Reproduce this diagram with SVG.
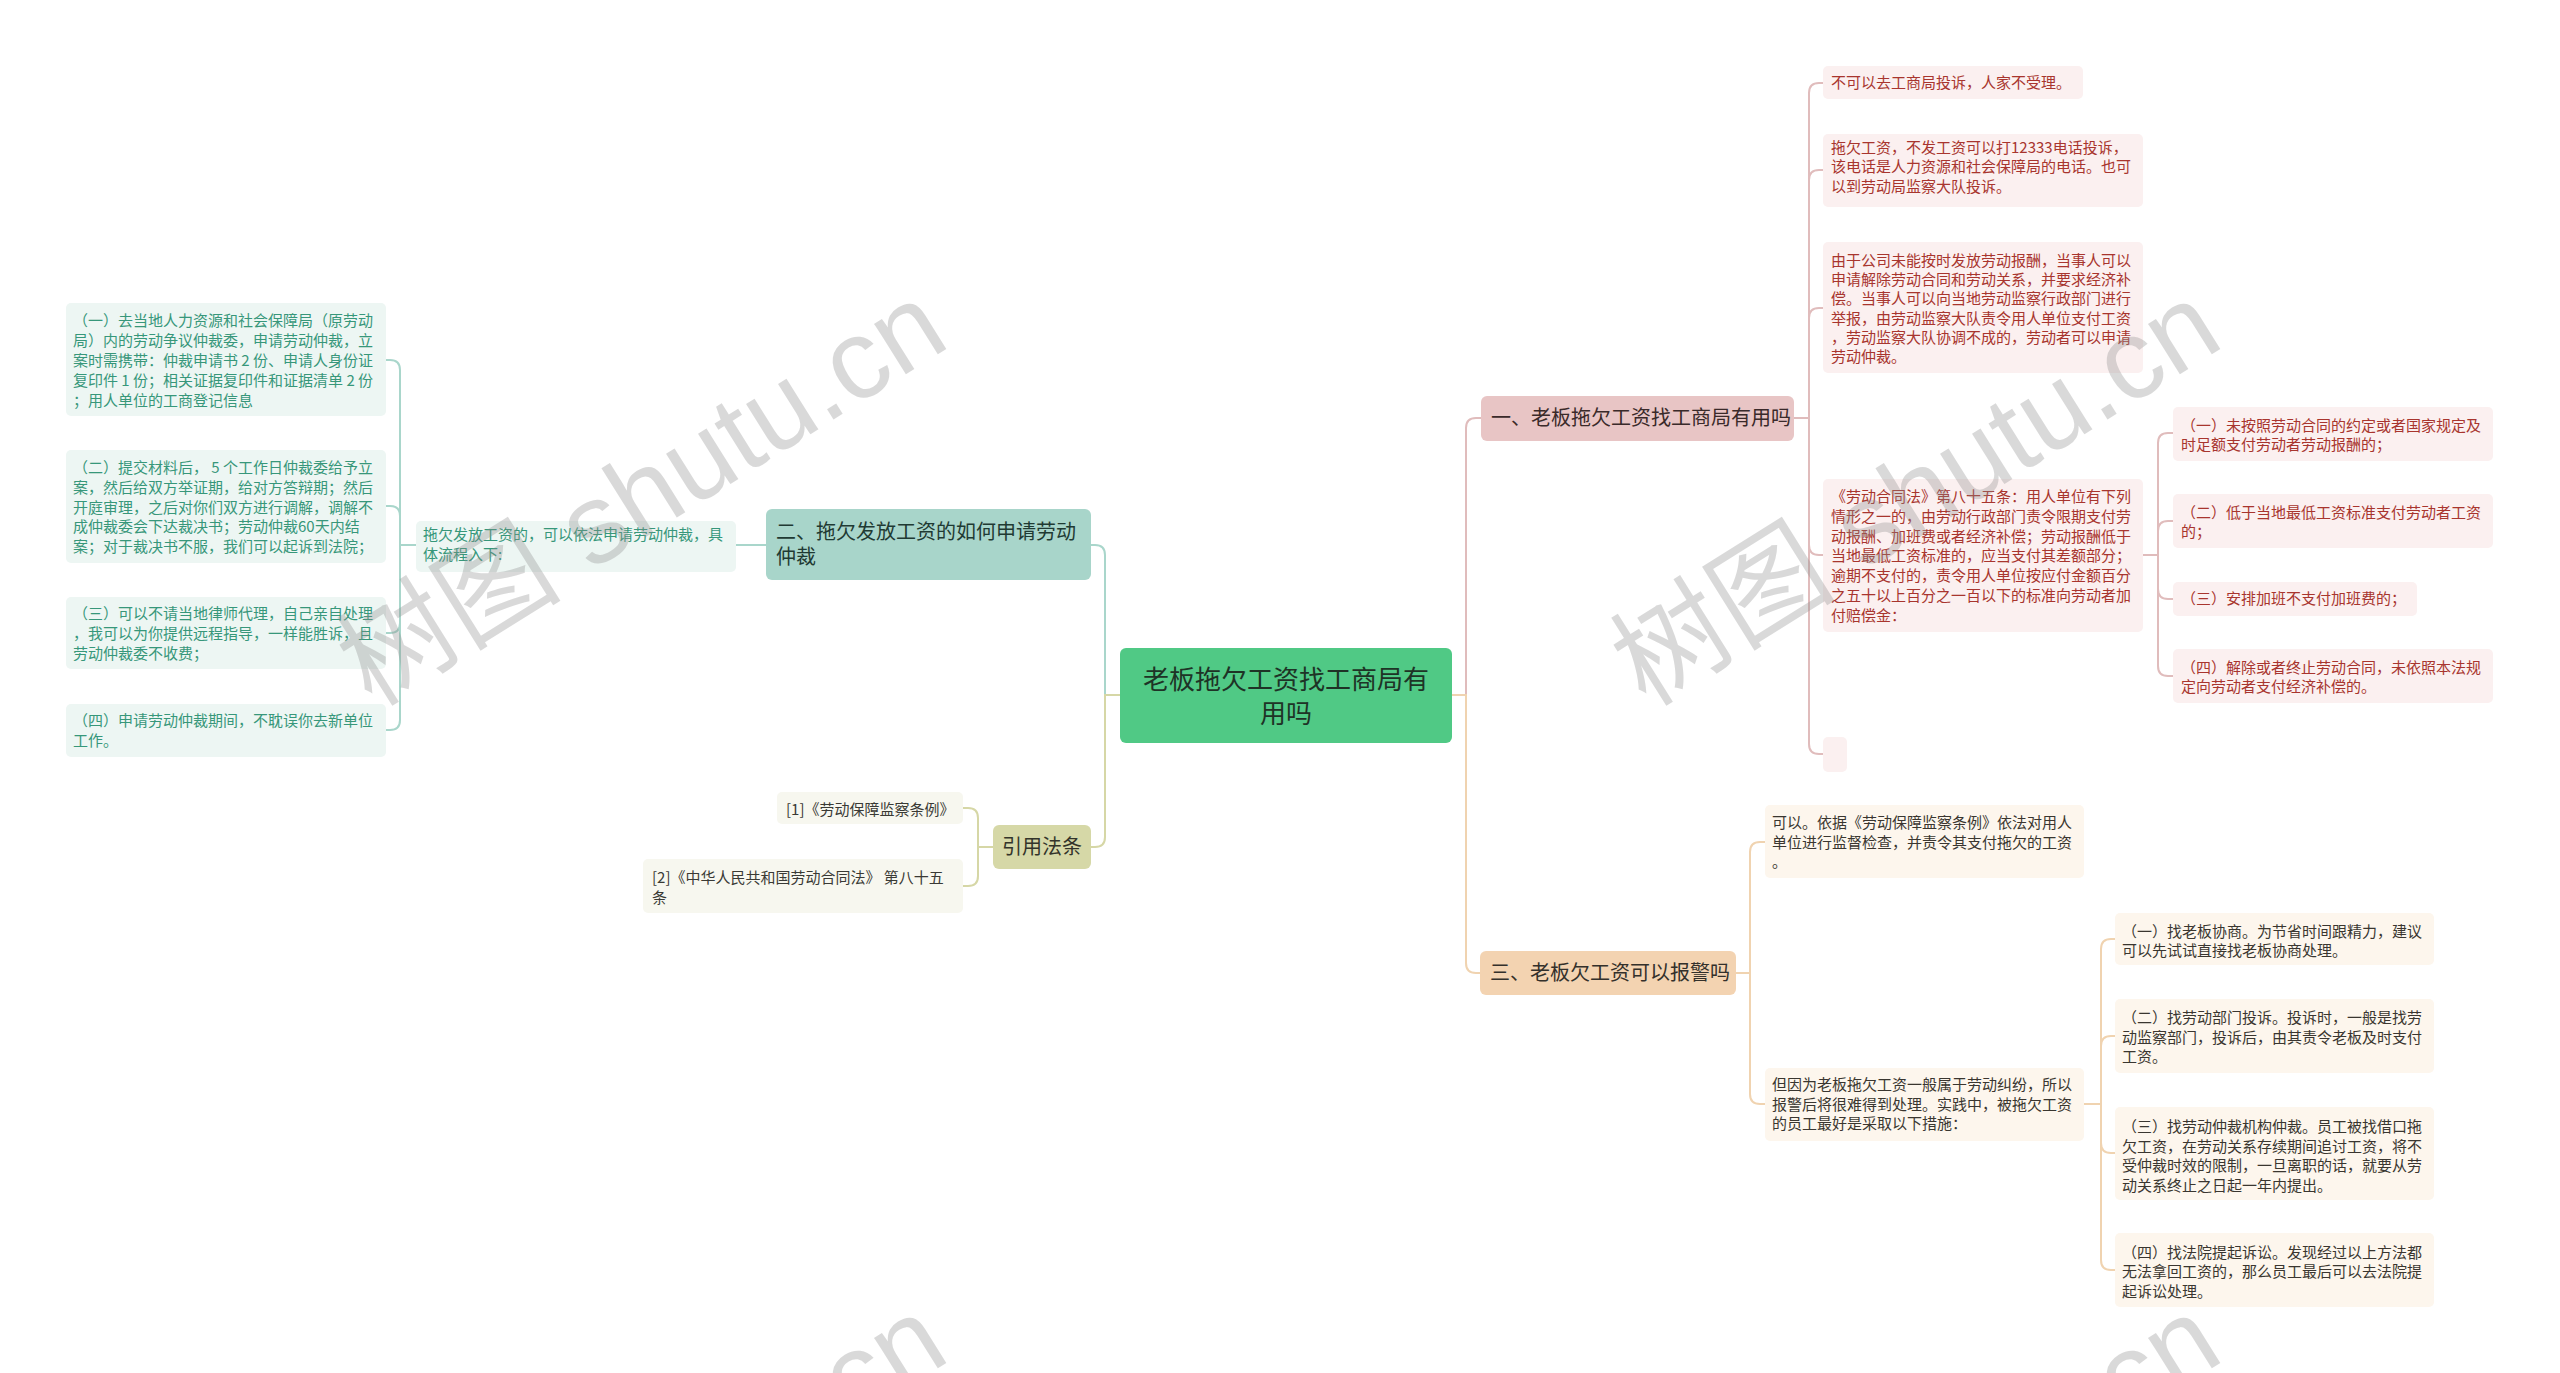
<svg xmlns="http://www.w3.org/2000/svg" width="2560" height="1373" viewBox="0 0 2560 1373">
<style>
text{font-family:"Noto Sans CJK SC","Noto Sans",sans-serif;}
.c{fill:none;stroke-width:2;}
.pk{stroke:#e0bcbc}.or{stroke:#f0d3b0}.tl{stroke:#a9d6cb}.ol{stroke:#d6d7a6}
.lf{font-size:15px}
.tlb{fill:#edf6f3}.tlt{fill:#37977a}
.pkb{fill:#fbf0f0}.pkt{fill:#a8352e}
.orb{fill:#fdf6ed}.ort{fill:#3a3630}
.olb{fill:#f7f7ef}.olt{fill:#3a3a35}
.wm{font-size:113px;fill:#8c8c8c;opacity:0.32;font-family:"Liberation Sans","Noto Sans CJK SC",sans-serif}
</style>
<rect width="2560" height="1373" fill="#ffffff"/>

<g id="connectors">
  <path class="c pk" d="M1452 695 H1466 V428 Q1466 418 1476 418 H1481"/>
  <path class="c or" d="M1452 695 H1466 V963 Q1466 973 1476 973 H1480"/>
  <path class="c tl" d="M1120 695 H1105 V555 Q1105 545 1095 545 H1091"/>
  <path class="c ol" d="M1120 695 H1105 V837 Q1105 847 1095 847 H1091"/>
  <path class="c pk" d="M1794 418 H1809 V93 Q1809 83 1819 83 H1823"/>
  <path class="c pk" d="M1794 418 H1809 V180 Q1809 170 1819 170 H1823"/>
  <path class="c pk" d="M1794 418 H1809 V318 Q1809 308 1819 308 H1823"/>
  <path class="c pk" d="M1794 418 H1809 V545 Q1809 555 1819 555 H1823"/>
  <path class="c pk" d="M1794 418 H1809 V744 Q1809 754 1819 754 H1823"/>
  <path class="c pk" d="M2143 555 H2158 V443 Q2158 433 2168 433 H2173"/>
  <path class="c pk" d="M2143 555 H2158 V531 Q2158 521 2168 521 H2173"/>
  <path class="c pk" d="M2143 555 H2158 V589 Q2158 599 2168 599 H2173"/>
  <path class="c pk" d="M2143 555 H2158 V666 Q2158 676 2168 676 H2173"/>
  <path class="c or" d="M1736 973 H1750 V852 Q1750 842 1760 842 H1765"/>
  <path class="c or" d="M1736 973 H1750 V1094 Q1750 1104 1760 1104 H1765"/>
  <path class="c or" d="M2084 1104 H2101 V949 Q2101 939 2111 939 H2115"/>
  <path class="c or" d="M2084 1104 H2101 V1046 Q2101 1036 2111 1036 H2115"/>
  <path class="c or" d="M2084 1104 H2101 V1143 Q2101 1153 2111 1153 H2115"/>
  <path class="c or" d="M2084 1104 H2101 V1260 Q2101 1270 2111 1270 H2115"/>
  <path class="c tl" d="M766 545 H736"/>
  <path class="c tl" d="M416 545 H400 V370 Q400 360 390 360 H386"/>
  <path class="c tl" d="M416 545 H400 V516 Q400 506 390 506 H386"/>
  <path class="c tl" d="M416 545 H400 V623 Q400 633 390 633 H386"/>
  <path class="c tl" d="M416 545 H400 V720 Q400 730 390 730 H386"/>
  <path class="c ol" d="M993 847 H978 V818 Q978 808 968 808 H963"/>
  <path class="c ol" d="M993 847 H978 V876 Q978 886 968 886 H963"/>
</g>

<g id="center">
  <rect x="1120" y="648" width="332" height="95" rx="6" fill="#50c985"/>
  <text x="1286" y="689" font-size="26" fill="#1e3326" text-anchor="middle">老板拖欠工资找工商局有</text>
  <text x="1286" y="723" font-size="26" fill="#1e3326" text-anchor="middle">用吗</text>
</g>

<g id="branch1">
  <rect x="1481" y="396" width="313" height="45" rx="6" fill="#e8c5c5"/>
  <text x="1491" y="425" font-size="20" fill="#3a2a2a">一、老板拖欠工资找工商局有用吗</text>
</g>
<g id="p1">
  <rect class="pkb" x="1823" y="66" width="260" height="33" rx="5"/>
  <text class="lf pkt" x="1831" y="88">不可以去工商局投诉，人家不受理。</text>
</g>
<g id="p2">
  <rect class="pkb" x="1823" y="134" width="320" height="73" rx="5"/>
  <text class="lf pkt" x="1831" y="153">拖欠工资，不发工资可以打12333电话投诉，<tspan x="1831" dy="19.3">该电话是人力资源和社会保障局的电话。也可</tspan><tspan x="1831" dy="19.3">以到劳动局监察大队投诉。</tspan></text>
</g>
<g id="p3">
  <rect class="pkb" x="1823" y="242" width="320" height="131" rx="5"/>
  <text class="lf pkt" x="1831" y="266">由于公司未能按时发放劳动报酬，当事人可以<tspan x="1831" dy="19.2">申请解除劳动合同和劳动关系，并要求经济补</tspan><tspan x="1831" dy="19.2">偿。当事人可以向当地劳动监察行政部门进行</tspan><tspan x="1831" dy="19.2">举报，由劳动监察大队责令用人单位支付工资</tspan><tspan x="1831" dy="19.2">，劳动监察大队协调不成的，劳动者可以申请</tspan><tspan x="1831" dy="19.2">劳动仲裁。</tspan></text>
</g>
<g id="p4">
  <rect class="pkb" x="1823" y="479" width="320" height="153" rx="5"/>
  <text class="lf pkt" x="1831" y="502">《劳动合同法》第八十五条：用人单位有下列<tspan x="1831" dy="19.8">情形之一的，由劳动行政部门责令限期支付劳</tspan><tspan x="1831" dy="19.8">动报酬、加班费或者经济补偿；劳动报酬低于</tspan><tspan x="1831" dy="19.8">当地最低工资标准的，应当支付其差额部分；</tspan><tspan x="1831" dy="19.8">逾期不支付的，责令用人单位按应付金额百分</tspan><tspan x="1831" dy="19.8">之五十以上百分之一百以下的标准向劳动者加</tspan><tspan x="1831" dy="19.8">付赔偿金：</tspan></text>
</g>
<g id="p5">
  <rect class="pkb" x="1823" y="737" width="24" height="35" rx="5"/>
</g>
<g id="p4a">
  <rect class="pkb" x="2173" y="407" width="320" height="54" rx="5"/>
  <text class="lf pkt" x="2181" y="431">（一）未按照劳动合同的约定或者国家规定及<tspan x="2181" dy="19">时足额支付劳动者劳动报酬的；</tspan></text>
</g>
<g id="p4b">
  <rect class="pkb" x="2173" y="494" width="320" height="54" rx="5"/>
  <text class="lf pkt" x="2181" y="518">（二）低于当地最低工资标准支付劳动者工资<tspan x="2181" dy="19">的；</tspan></text>
</g>
<g id="p4c">
  <rect class="pkb" x="2173" y="582" width="244" height="34" rx="5"/>
  <text class="lf pkt" x="2181" y="604">（三）安排加班不支付加班费的；</text>
</g>
<g id="p4d">
  <rect class="pkb" x="2173" y="649" width="320" height="54" rx="5"/>
  <text class="lf pkt" x="2181" y="673">（四）解除或者终止劳动合同，未依照本法规<tspan x="2181" dy="19">定向劳动者支付经济补偿的。</tspan></text>
</g>

<g id="branch3">
  <rect x="1480" y="951" width="256" height="44" rx="6" fill="#f3d3b1"/>
  <text x="1490" y="980" font-size="20" fill="#33302b">三、老板欠工资可以报警吗</text>
</g>
<g id="o1">
  <rect class="orb" x="1765" y="805" width="319" height="73" rx="5"/>
  <text class="lf ort" x="1772" y="828">可以。依据《劳动保障监察条例》依法对用人<tspan x="1772" dy="19.5">单位进行监督检查，并责令其支付拖欠的工资</tspan><tspan x="1772" dy="19.5">。</tspan></text>
</g>
<g id="o2">
  <rect class="orb" x="1765" y="1068" width="319" height="73" rx="5"/>
  <text class="lf ort" x="1772" y="1090">但因为老板拖欠工资一般属于劳动纠纷，所以<tspan x="1772" dy="19.5">报警后将很难得到处理。实践中，被拖欠工资</tspan><tspan x="1772" dy="19.5">的员工最好是采取以下措施：</tspan></text>
</g>
<g id="o2a">
  <rect class="orb" x="2115" y="913" width="319" height="52" rx="5"/>
  <text class="lf ort" x="2122" y="937">（一）找老板协商。为节省时间跟精力，建议<tspan x="2122" dy="19">可以先试试直接找老板协商处理。</tspan></text>
</g>
<g id="o2b">
  <rect class="orb" x="2115" y="999" width="319" height="74" rx="5"/>
  <text class="lf ort" x="2122" y="1023">（二）找劳动部门投诉。投诉时，一般是找劳<tspan x="2122" dy="19.5">动监察部门，投诉后，由其责令老板及时支付</tspan><tspan x="2122" dy="19.5">工资。</tspan></text>
</g>
<g id="o2c">
  <rect class="orb" x="2115" y="1107" width="319" height="93" rx="5"/>
  <text class="lf ort" x="2122" y="1132">（三）找劳动仲裁机构仲裁。员工被找借口拖<tspan x="2122" dy="19.5">欠工资，在劳动关系存续期间追讨工资，将不</tspan><tspan x="2122" dy="19.5">受仲裁时效的限制，一旦离职的话，就要从劳</tspan><tspan x="2122" dy="19.5">动关系终止之日起一年内提出。</tspan></text>
</g>
<g id="o2d">
  <rect class="orb" x="2115" y="1233" width="319" height="74" rx="5"/>
  <text class="lf ort" x="2122" y="1258">（四）找法院提起诉讼。发现经过以上方法都<tspan x="2122" dy="19.3">无法拿回工资的，那么员工最后可以去法院提</tspan><tspan x="2122" dy="19.3">起诉讼处理。</tspan></text>
</g>

<g id="branch2">
  <rect x="766" y="509" width="325" height="71" rx="6" fill="#a8d5ca"/>
  <text x="776" y="539" font-size="20" fill="#1f3a33">二、拖欠发放工资的如何申请劳动<tspan x="776" dy="25">仲裁</tspan></text>
</g>
<g id="t0">
  <rect class="tlb" x="416" y="521" width="320" height="51" rx="5"/>
  <text class="lf tlt" x="423" y="540">拖欠发放工资的，可以依法申请劳动仲裁，具<tspan x="423" dy="20">体流程入下:</tspan></text>
</g>
<g id="t1">
  <rect class="tlb" x="66" y="303" width="320" height="113" rx="5"/>
  <text class="lf tlt" x="73" y="326">（一）去当地人力资源和社会保障局（原劳动<tspan x="73" dy="20">局）内的劳动争议仲裁委，申请劳动仲裁，立</tspan><tspan x="73" dy="20">案时需携带：仲裁申请书 2 份、申请人身份证</tspan><tspan x="73" dy="20">复印件 1 份；相关证据复印件和证据清单 2 份</tspan><tspan x="73" dy="20">；用人单位的工商登记信息</tspan></text>
</g>
<g id="t2">
  <rect class="tlb" x="66" y="450" width="320" height="113" rx="5"/>
  <text class="lf tlt" x="73" y="473">（二）提交材料后， 5 个工作日仲裁委给予立<tspan x="73" dy="19.8">案，然后给双方举证期，给对方答辩期；然后</tspan><tspan x="73" dy="19.8">开庭审理，之后对你们双方进行调解，调解不</tspan><tspan x="73" dy="19.8">成仲裁委会下达裁决书；劳动仲裁60天内结</tspan><tspan x="73" dy="19.8">案；对于裁决书不服，我们可以起诉到法院；</tspan></text>
</g>
<g id="t3">
  <rect class="tlb" x="66" y="597" width="320" height="72" rx="5"/>
  <text class="lf tlt" x="73" y="619">（三）可以不请当地律师代理，自己亲自处理<tspan x="73" dy="20">，我可以为你提供远程指导，一样能胜诉，且</tspan><tspan x="73" dy="20">劳动仲裁委不收费；</tspan></text>
</g>
<g id="t4">
  <rect class="tlb" x="66" y="704" width="320" height="53" rx="5"/>
  <text class="lf tlt" x="73" y="726">（四）申请劳动仲裁期间，不耽误你去新单位<tspan x="73" dy="19.5">工作。</tspan></text>
</g>

<g id="refs">
  <rect x="993" y="825" width="98" height="44" rx="6" fill="#d6d8a7"/>
  <text x="1042" y="854" font-size="20" fill="#33342a" text-anchor="middle">引用法条</text>
</g>
<g id="r1">
  <rect class="olb" x="777" y="792" width="186" height="32" rx="5"/>
  <text class="lf olt" x="786" y="815">[1]《劳动保障监察条例》</text>
</g>
<g id="r2">
  <rect class="olb" x="643" y="859" width="320" height="54" rx="5"/>
  <text class="lf olt" x="652" y="883">[2]《中华人民共和国劳动合同法》 第八十五<tspan x="652" dy="19.5">条</tspan></text>
</g>

<g id="watermarks">
  <text class="wm" transform="translate(372,708) rotate(-32)">树图 shutu.cn</text>
  <text class="wm" transform="translate(1646,708) rotate(-32)">树图 shutu.cn</text>
  <text class="wm" transform="translate(372,1722) rotate(-32)">树图 shutu.cn</text>
  <text class="wm" transform="translate(1646,1722) rotate(-32)">树图 shutu.cn</text>
</g>
</svg>
